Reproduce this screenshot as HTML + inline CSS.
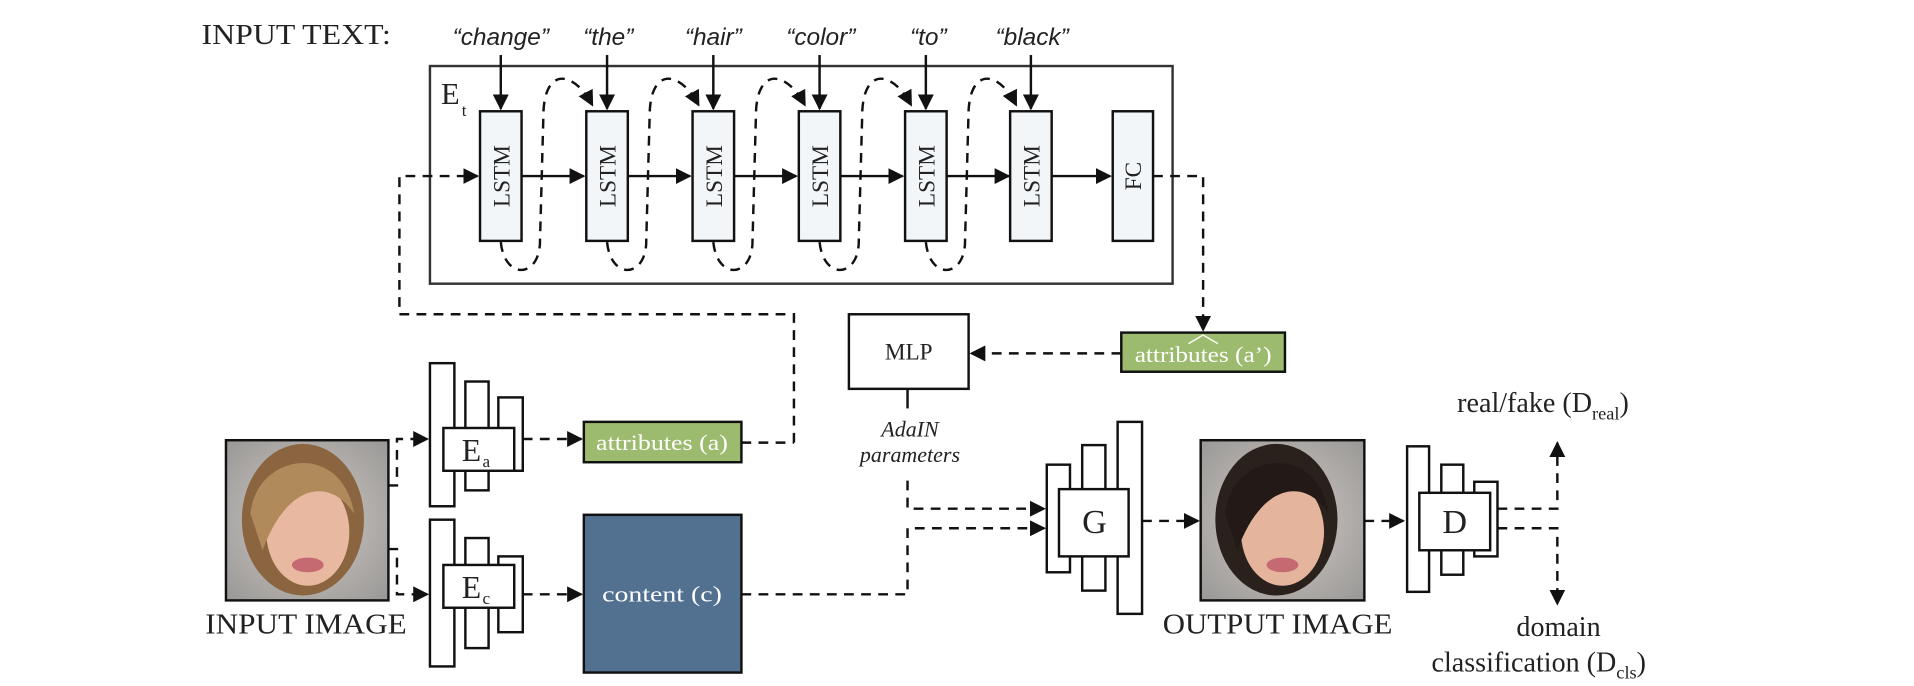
<!DOCTYPE html>
<html><head><meta charset="utf-8"><style>
html,body{margin:0;padding:0;background:#fff;}
svg{display:block;}
text{font-family:"Liberation Serif",serif;fill:#222;}
.s{font-family:"Liberation Sans",sans-serif;}
</style></head><body>
<svg width="1914" height="686" viewBox="0 0 1567 561" preserveAspectRatio="none" xmlns="http://www.w3.org/2000/svg">
<defs>
<marker id="a" viewBox="0 0 10 10" refX="9" refY="5" markerWidth="6.5" markerHeight="6.5" orient="auto"><path d="M0,0 L10,5 L0,10 z" fill="#111"/></marker>
<radialGradient id="bg1" cx="50%" cy="50%" r="70%"><stop offset="0" stop-color="#cfcac6"/><stop offset="1" stop-color="#9a9896"/></radialGradient>
</defs>
<g stroke="#111" stroke-width="2" fill="none">
<rect x="352" y="54" width="608" height="178" stroke="#333"/>
</g>
<text x="165" y="36" font-size="23" textLength="155" lengthAdjust="spacingAndGlyphs">INPUT TEXT:</text>
<g font-size="20" text-anchor="middle">
<text x="410" y="37" class="s" font-style="italic">“change”</text>
<text x="498" y="37" class="s" font-style="italic">“the”</text>
<text x="584" y="37" class="s" font-style="italic">“hair”</text>
<text x="672" y="37" class="s" font-style="italic">“color”</text>
<text x="760" y="37" class="s" font-style="italic">“to”</text>
<text x="845" y="37" class="s" font-style="italic">“black”</text>
</g>
<text x="361" y="85" font-size="25">E</text><text x="378" y="95" font-size="14">t</text>
<g stroke="#111" stroke-width="2" fill="none">
<line x1="410" y1="45" x2="410" y2="89" marker-end="url(#a)"/>
<line x1="497" y1="45" x2="497" y2="89" marker-end="url(#a)"/>
<line x1="584" y1="45" x2="584" y2="89" marker-end="url(#a)"/>
<line x1="671" y1="45" x2="671" y2="89" marker-end="url(#a)"/>
<line x1="758" y1="45" x2="758" y2="89" marker-end="url(#a)"/>
<line x1="844" y1="45" x2="844" y2="89" marker-end="url(#a)"/>
<line x1="427" y1="144" x2="478" y2="144" marker-end="url(#a)"/>
<line x1="514" y1="144" x2="565" y2="144" marker-end="url(#a)"/>
<line x1="601" y1="144" x2="652" y2="144" marker-end="url(#a)"/>
<line x1="688" y1="144" x2="739" y2="144" marker-end="url(#a)"/>
<line x1="775" y1="144" x2="826" y2="144" marker-end="url(#a)"/>
<line x1="861" y1="144" x2="909" y2="144" marker-end="url(#a)"/>
</g>
<g stroke="#111" stroke-width="2" fill="none" stroke-dasharray="8,6">
<path d="M410,198 C413,228 440,228 442,200 L445,90 C447,55 470,58 485,86" marker-end="url(#a)"/>
<path d="M497,198 C500,228 527,228 529,200 L532,90 C534,55 557,58 572,86" marker-end="url(#a)"/>
<path d="M584,198 C587,228 614,228 616,200 L619,90 C621,55 644,58 659,86" marker-end="url(#a)"/>
<path d="M671,198 C674,228 701,228 703,200 L706,90 C708,55 731,58 746,86" marker-end="url(#a)"/>
<path d="M758,198 C761,228 788,228 790,200 L793,90 C795,55 818,58 832,86" marker-end="url(#a)"/>
<path d="M650,362 L650,257 L327,257 L327,144 L391,144" marker-end="url(#a)"/>
<line x1="607" y1="362" x2="650" y2="362"/>
<path d="M944,144 L985,144 L985,270" marker-end="url(#a)"/>
<line x1="918" y1="289" x2="795" y2="289" marker-end="url(#a)"/>
<path d="M318,397 L325,397 L325,359 L350,359" marker-end="url(#a)"/>
<path d="M318,449 L325,449 L325,486 L350,486" marker-end="url(#a)"/>
<line x1="428" y1="359" x2="476" y2="359" marker-end="url(#a)"/>
<line x1="428" y1="486" x2="476" y2="486" marker-end="url(#a)"/>
<path d="M743,393 L743,416 L855,416" marker-end="url(#a)"/>
<path d="M607,486 L743,486 L743,432 L855,432" marker-end="url(#a)"/>
<line x1="935" y1="426" x2="981" y2="426" marker-end="url(#a)"/>
<line x1="1117" y1="426" x2="1149" y2="426" marker-end="url(#a)"/>
<path d="M1226,416 L1275,416 L1275,362" marker-end="url(#a)"/>
<path d="M1226,432 L1275,432 L1275,494" marker-end="url(#a)"/>
</g>
<line x1="743" y1="318" x2="743" y2="334" stroke="#111" stroke-width="2"/>
<g stroke="#111" stroke-width="2" fill="#f2f6f9">
<rect x="393" y="91" width="34" height="106"/>
<rect x="480" y="91" width="34" height="106"/>
<rect x="567" y="91" width="34" height="106"/>
<rect x="654" y="91" width="34" height="106"/>
<rect x="741" y="91" width="34" height="106"/>
<rect x="827" y="91" width="34" height="106"/>
<rect x="911" y="91" width="33" height="106"/>
</g>
<g font-size="19" text-anchor="middle">
<text transform="translate(417,144) rotate(-90)">LSTM</text>
<text transform="translate(504,144) rotate(-90)">LSTM</text>
<text transform="translate(591,144) rotate(-90)">LSTM</text>
<text transform="translate(678,144) rotate(-90)">LSTM</text>
<text transform="translate(765,144) rotate(-90)">LSTM</text>
<text transform="translate(851,144) rotate(-90)">LSTM</text>
<text transform="translate(934,144) rotate(-90)">FC</text>
</g>
<rect x="918" y="272" width="134" height="32" fill="#9cbb6e" stroke="#111" stroke-width="2"/>
<text x="929" y="296" font-size="18" textLength="112" lengthAdjust="spacingAndGlyphs" style="fill:#fff">attributes (a’)</text>
<path d="M973,281 L985,274 L997,281" stroke="#fff" stroke-width="1.2" fill="none"/>
<rect x="695" y="257" width="98" height="61" fill="#fff" stroke="#111" stroke-width="2"/>
<text x="744" y="294" font-size="19" text-anchor="middle">MLP</text>
<text x="745" y="357" font-size="18" font-style="italic" text-anchor="middle">AdaIN</text>
<text x="745" y="378" font-size="18" font-style="italic" text-anchor="middle">parameters</text>
<g stroke="#111" stroke-width="2" fill="#fff">
<rect x="352" y="297" width="20" height="117"/><rect x="381" y="312" width="19" height="89"/><rect x="408" y="325" width="20" height="60"/>
<rect x="363" y="350" width="58" height="35"/>
<rect x="352" y="425" width="20" height="120"/><rect x="381" y="440" width="19" height="90"/><rect x="408" y="455" width="20" height="62"/>
<rect x="363" y="462" width="58" height="35"/>
<rect x="857" y="380" width="19" height="88"/><rect x="886" y="364" width="19" height="119"/><rect x="915" y="345" width="20" height="157"/>
<rect x="867" y="400" width="57" height="55"/>
<rect x="1152" y="365" width="18" height="119"/><rect x="1180" y="380" width="18" height="90"/><rect x="1207" y="394" width="19" height="61"/>
<rect x="1162" y="403" width="58" height="47"/>
</g>
<text x="378" y="377" font-size="26">E</text><text x="395" y="382" font-size="14">a</text>
<text x="378" y="489" font-size="26">E</text><text x="395" y="494" font-size="14">c</text>
<text x="896" y="436" font-size="28" text-anchor="middle">G</text>
<text x="1191" y="436" font-size="28" text-anchor="middle">D</text>
<rect x="478" y="345" width="129" height="33" fill="#9cbb6e" stroke="#111" stroke-width="2"/>
<text x="488" y="368" font-size="18" textLength="108" lengthAdjust="spacingAndGlyphs" style="fill:#fff">attributes (a)</text>
<rect x="478" y="421" width="129" height="129" fill="#52708f" stroke="#111" stroke-width="2"/>
<text x="493" y="492" font-size="18" textLength="98" lengthAdjust="spacingAndGlyphs" style="fill:#fff">content (c)</text>
<g>
<rect x="185" y="360" width="133" height="131" fill="url(#bg1)" stroke="#111" stroke-width="2"/>
<ellipse cx="248" cy="425" rx="50" ry="62" fill="#8a6540"/>
<ellipse cx="252" cy="435" rx="34" ry="44" fill="#e8b9a0"/>
<path d="M205,420 C210,370 280,360 290,420 C270,390 235,395 215,450 Z" fill="#b08a5a"/>
<ellipse cx="252" cy="462" rx="13" ry="6" fill="#c56a70"/>
<rect x="983" y="360" width="134" height="131" fill="url(#bg1)" stroke="#111" stroke-width="2"/>
<ellipse cx="1045" cy="425" rx="50" ry="62" fill="#2a201c"/>
<ellipse cx="1050" cy="435" rx="34" ry="44" fill="#e4b59c"/>
<path d="M1003,420 C1008,370 1078,360 1088,420 C1068,390 1033,395 1013,450 Z" fill="#231a17"/>
<ellipse cx="1050" cy="462" rx="13" ry="6" fill="#c56a70"/>
</g>
<text x="168" y="518" font-size="23" textLength="165" lengthAdjust="spacingAndGlyphs">INPUT IMAGE</text>
<text x="952" y="518" font-size="23" textLength="188" lengthAdjust="spacingAndGlyphs">OUTPUT IMAGE</text>
<text x="1193" y="337" font-size="23">real/fake (D<tspan font-size="15" dy="6">real</tspan><tspan dy="-6">)</tspan></text>
<text x="1276" y="520" font-size="23" text-anchor="middle">domain</text>
<text x="1172" y="549" font-size="23">classification (D<tspan font-size="15" dy="6">cls</tspan><tspan dy="-6">)</tspan></text>
</svg>
</body></html>
